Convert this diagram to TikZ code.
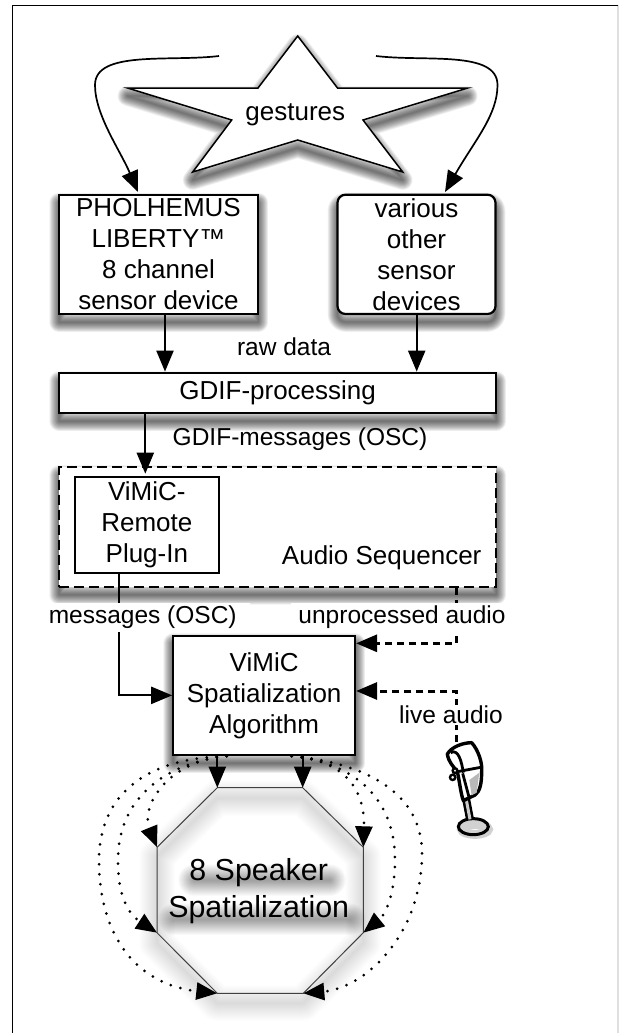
\documentclass[tikz,border=0pt]{standalone}
\usepackage{fontspec}
\setmainfont{Liberation Sans}
\usetikzlibrary{arrows.meta,shapes.misc}
\tikzset{
  every node/.style={inner sep=0pt},
  lab/.style={font=\fontsize{26}{31}\selectfont,align=center},
  small/.style={font=\fontsize{24.5}{29}\selectfont,align=center},
  big/.style={font=\fontsize{30.4}{37.7}\selectfont,align=center},
  boxa/.style={lab,draw=black,fill=white,line width=2.2pt},
  arr/.style={line width=2.2pt,-{Triangle[length=21pt,width=17pt]}},
  curv/.style={line width=1.7pt,-{Triangle[length=21pt,width=17pt]}},
  dsh/.style={line width=3pt,dash pattern=on 7pt off 5pt,-{Triangle[length=21pt,width=17pt]}},
  dot/.style={line width=3pt,line cap=round,dash pattern=on 0pt off 10pt,-{Triangle[length=21pt,width=17pt]}},
  oct/.style={line width=1pt,draw=black!75},
}
% soft shadow: stacked translucent strokes; #1 opacity, #2 largest width, #3 path
\newcommand{\softpath}[3]{%
  \foreach \w in {1,...,#2}{\draw[black,opacity=#1,line width=\w pt,line join=round,line cap=round] #3;}}
\begin{document}
\begin{tikzpicture}[x=1pt,y=-1pt]
\useasboundingbox (0,0) rectangle (619,1033);
\fill[white] (0,0) rectangle (619,1033);
\draw[line width=1.2pt,black!12] (618,5.5) -- (618,1033);
\draw[line width=1.8pt,black] (12.5,1033) -- (12.5,5.5) -- (618,5.5);
% shadows
\softpath{.034}{20}{(297.7,44) -- (337.5,96) -- (467.8,96) -- (363,128) -- (402.7,180) -- (297.7,148) -- (192.7,180) -- (231.7,128) -- (127.5,96) -- (258,96) -- cycle}
\softpath{.034}{20}{(59,202.7) rectangle (258,322)}
\softpath{.034}{20}{[rounded corners=8pt] (337.5,202.7) rectangle (495.5,322)}
\softpath{.034}{20}{(59.3,381) rectangle (496,421)}
\softpath{.034}{20}{(59.3,475) rectangle (496,594.7)}
\softpath{.034}{20}{(173.3,643) rectangle (355,763)}
\softpath{.0045}{36}{(217.3,798) -- (302.7,798) -- (363.3,857) -- (363.3,943) -- (303.3,1003) -- (217.3,1003) -- (157,943) -- (157,857) -- cycle}
\softpath{.010}{32}{(194,880) -- (330,880)}
\softpath{.010}{32}{(174,919) -- (350,919)}
% star
\coordinate (st1) at (297.7,36);
\coordinate (st2) at (337.5,88);
\coordinate (st3) at (467.8,88);
\coordinate (st4) at (363,120);
\coordinate (st5) at (402.7,172);
\coordinate (st6) at (297.7,140);
\coordinate (st7) at (192.7,172);
\coordinate (st8) at (231.7,120);
\coordinate (st9) at (127.5,88);
\coordinate (st10) at (258,88);
\draw[line width=1.5pt,fill=white,line join=miter] (st1) -- (st2) -- (st3) -- (st4) -- (st5) -- (st6) -- (st7) -- (st8) -- (st9) -- (st10) -- cycle;
\node[lab] (gest) at (295.3,115) {gestures};
\node[boxa,minimum width=199pt,minimum height=119.3pt] (pol) at (158.5,254.35) {PHOLHEMUS\\LIBERTY™\\8 channel\\sensor device};
\node[boxa,rounded corners=8pt,minimum width=158pt,minimum height=119.3pt] (oth) at (416.5,254.35) {various\\other\\sensor\\devices};
\node[boxa,minimum width=436.7pt,minimum height=40pt] (gdif) at (277.65,392.7) {GDIF-processing};
\node[small] (raw) at (284,347) {raw data};
\node[small] (gmsg) at (300,439) {GDIF-messages (OSC)};
\node[lab,draw=black,fill=white,line width=2pt,dash pattern=on 10pt off 5pt,minimum width=436.7pt,minimum height=119.4pt] (seq) at (277.65,527) {};
\node[lab,draw=black,fill=white,line width=2pt,minimum width=143.7pt,minimum height=96pt] (plug) at (146.85,524.7) {ViMiC-\\Remote\\Plug-In};
\node[lab] (aud) at (381.7,558) {Audio Sequencer};
\node[boxa,minimum width=181.7pt,minimum height=119.3pt] (vim) at (264.15,695.35) {ViMiC\\Spatialization\\Algorithm};
% connector x positions
\coordinate (xa) at (165,0);
\coordinate (xb) at (416.7,0);
\coordinate (xc) at (145.3,0);
\coordinate (xd) at (119.3,0);
\coordinate (xe) at (456.3,0);
\coordinate (ye) at (0,643.3);
\coordinate (yf) at (0,691);
\coordinate (cl) at (219,56);
\coordinate (cr) at (376,56);
\draw[curv] (cl) .. controls (170,62) and (95,50) .. (95,85) .. controls (95,115) and (120,150) .. (138,192);
\draw[curv] (cr) .. controls (425,62) and (497.5,50) .. (497.5,85) .. controls (497.5,115) and (475,140) .. (445,192);
\draw[arr] (xa |- pol.south) -- (xa |- gdif.north);
\draw[arr] (xb |- oth.south) -- (xb |- gdif.north);
\draw[arr,shorten >=2pt] (xc |- gdif.south) -- (xc |- plug.north);
\draw[arr] (xd |- plug.south) -- (xd |- vim.west) -- (vim.west);
\draw[dsh] (xe |- seq.south) -- (xe |- ye) -- (vim.east |- ye);
\coordinate (mic) at (456.3,742);
\draw[dsh] (mic) -- (mic |- yf) -- (vim.east |- yf);
% label patches
\fill[white] (45,602.7) rectangle (250,631.7);
\fill[white] (290.7,602.7) rectangle (510,631.7);
\node[small] (msg) at (142.7,617) {messages (OSC)};
\node[small] (unp) at (402,617) {unprocessed audio};
\node[small,fill=white,inner ysep=1pt] (live) at (451,715) {live audio};
% octagon
\coordinate (o1) at (217.3,787.7);
\coordinate (o2) at (302.7,787.7);
\coordinate (o3) at (363.3,847.3);
\coordinate (o4) at (363.3,932.7);
\coordinate (o5) at (303.3,993.3);
\coordinate (o6) at (217.3,993.3);
\coordinate (o7) at (157,932.7);
\coordinate (o8) at (157,847.3);
\draw[oct] (o1) -- (o2) -- (o3) -- (o4) -- (o5) -- (o6) -- (o7) -- (o8) -- cycle;
\node[big] (spk) at (258.7,891) {8 Speaker\\Spatialization};
% connectors to speakers
\coordinate (dl) at (226.7,0);
\coordinate (dr) at (291.7,0);
\draw[arr] (o1 |- vim.south) -- (o1);
\draw[arr] (o2 |- vim.south) -- (o2);
\draw[dot] (dl |- vim.south) .. controls (170,760) and (140,805) .. (o8);
\draw[dot] (dl |- vim.south) .. controls (170,762) and (118,795) .. (118,860) .. controls (118,900) and (130,915) .. (o7);
\draw[dot] (dl |- vim.south) .. controls (140,758) and (99,800) .. (99,860) .. controls (99,940) and (140,985) .. (o6);
\draw[dot] (dr |- vim.south) .. controls (345,760) and (365,790) .. (o3);
\draw[dot] (dr |- vim.south) .. controls (350,762) and (395,795) .. (395,860) .. controls (395,895) and (385,915) .. (o4);
\draw[dot] (dr |- vim.south) .. controls (360,762) and (422,790) .. (422,853) .. controls (422,935) and (365,988) .. (o5);
% microphone
\begin{scope}[shift={(430,730)},x=0.3333pt,y=-0.3333pt]
\draw[black!18,line width=9pt] (135,298) ellipse [x radius=40,y radius=15];
\draw[black,line width=3pt] (130,290) ellipse [x radius=45,y radius=24];
\draw[black,line width=8pt] (108,205) -- (120,268);
\draw[black!20,line width=3pt] (108,205) -- (120,268);
\draw[black,line width=3.4pt,fill=white,line join=round] (52,72) .. controls (65,50) and (100,38) .. (125,38) .. controls (145,60) and (158,100) .. (155,125) .. controls (155,160) and (150,185) .. (135,195) -- (100,212) .. controls (92,190) and (88,150) .. (82,125) .. controls (70,110) and (55,95) .. (52,72) -- cycle;
\fill[black!28] (118,150) -- (148,128) -- (140,188) -- (125,196) -- cycle;
\draw[black,line width=2.8pt] (62,68) .. controls (85,55) and (95,95) .. (100,128);
\draw[black,line width=2.8pt] (82,125) -- (152,112);
\draw[black,line width=2.8pt] (98,130) -- (118,205);
\draw[black,line width=2.4pt,fill=white] (68,142) circle (8);
\draw[black,line width=2.4pt,fill=white] (75,122) circle (7);
\end{scope}
\end{tikzpicture}
\end{document}
